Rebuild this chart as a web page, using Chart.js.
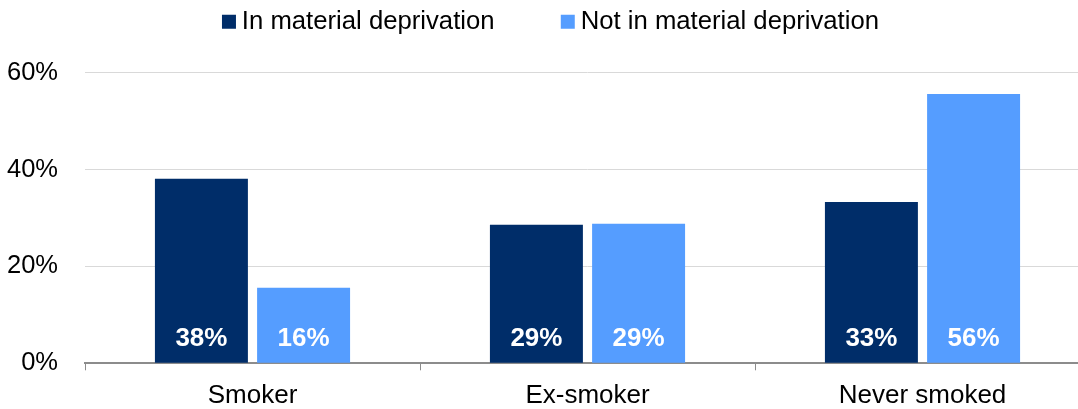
<!DOCTYPE html>
<html>
<head>
<meta charset="utf-8">
<script src="https://cdn.jsdelivr.net/npm/chart.js@4/dist/chart.umd.min.js"></script>
<style>
  html, body { margin: 0; padding: 0; background: #fff; overflow: hidden; }
  #wrap { position: relative; width: 1090px; height: 409px; }
</style>
</head>
<body>
<div id="wrap"><canvas id="chart"></canvas></div>
<script>
const categories = ["Smoker", "Ex-smoker", "Never smoked"];
const seriesNames = ["In material deprivation", "Not in material deprivation"];
const deprived = [38.1, 28.6, 33.3];
const notDeprived = [15.6, 28.8, 55.6];
const yTicks = [0, 20, 40, 60];

const dark = "#002d69";
const light = "#559dff";
const font = "'Liberation Sans', Arial, sans-serif";

// value labels inside bars, near the base
const barLabels = {
  id: "barLabels",
  afterDatasetsDraw(chart) {
    const ctx = chart.ctx;
    ctx.save();
    ctx.fillStyle = "#fff";
    ctx.font = "bold 26px " + font;
    ctx.textAlign = "center";
    ctx.textBaseline = "middle";
    chart.data.datasets.forEach((ds, i) => {
      chart.getDatasetMeta(i).data.forEach((bar, j) => {
        ctx.fillText(Math.round(ds.data[j]) + "%", bar.x, bar.base - 24);
      });
    });
    ctx.restore();
  },
};

// more room under the legend, and nudge it a little right
const legendTweak = {
  id: "legendTweak",
  beforeInit(chart) {
    const fit = chart.legend.fit;
    chart.legend.fit = function () {
      fit.bind(chart.legend)();
      this.height += 28;
    };
  },
  afterLayout(chart) {
    chart.legend.left += 9;
    chart.legend.right += 9;
  },
};

new Chart(document.getElementById("chart"), {
  type: "bar",
  data: {
    labels: categories,
    datasets: [
      { label: seriesNames[0], data: deprived, backgroundColor: dark },
      { label: seriesNames[1], data: notDeprived, backgroundColor: light },
    ],
  },
  options: {
    responsive: true,
    maintainAspectRatio: false,
    animation: false,
    layout: { padding: 0 },
    datasets: { bar: { categoryPercentage: 0.61, barPercentage: 0.91 } },
    plugins: {
      tooltip: { enabled: false },
      legend: {
        position: "top",
        labels: {
          usePointStyle: true,
          pointStyle: "rect",
          boxWidth: 0.01,
          boxHeight: 14,
          padding: 9,
          color: "#000",
          font: { family: font, size: 25.7 },
          generateLabels(chart) {
            const items = Chart.defaults.plugins.legend.labels.generateLabels(chart);
            items[0].text = items[0].text + "         ";
            items.forEach((it) => { it.lineWidth = 0; });
            return items;
          },
        },
      },
    },
    scales: {
      x: {
        afterFit(scale) { scale.height = 45.7; },
        grid: {
          drawOnChartArea: false,
          drawTicks: true,
          tickLength: 7,
          color: "#8c8c8c",
          offset: true,
        },
        border: { color: "#8c8c8c", width: 2 },
        ticks: { color: "#000", padding: 10, font: { family: font, size: 26 } },
      },
      y: {
        min: 0,
        max: 60,
        afterFit(scale) { scale.width = 85; },
        afterBuildTicks(scale) { scale.ticks = yTicks.map((v) => ({ value: v })); },
        grid: { color: "#d9d9d9", drawTicks: false },
        border: { display: false },
        ticks: {
          color: "#000",
          padding: 27,
          font: { family: font, size: 25.5 },
          callback: (v) => v + "%",
        },
      },
    },
  },
  plugins: [barLabels, legendTweak],
});
</script>
</body>
</html>
